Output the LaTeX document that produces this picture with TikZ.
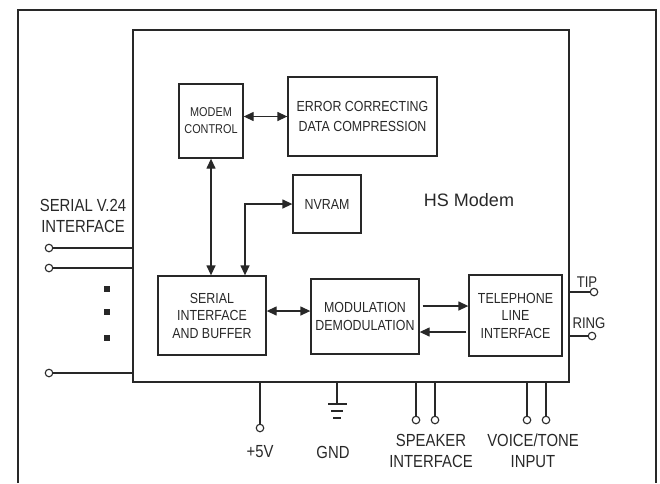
\documentclass[tikz,border=0pt]{standalone}
\usepackage{fontspec}
\setmainfont{Liberation Sans}
\newfontfamily\narrowsf{Liberation Sans}[FakeStretch=0.85]
\usetikzlibrary{arrows.meta}
\definecolor{lnk}{RGB}{40,40,40}

\begin{document}
\begin{tikzpicture}[x=1pt, y=-1pt,
  blk/.style={draw=lnk, line width=1.3pt, align=center, inner sep=0pt, text=lnk, font=\narrowsf\fontsize{14.6}{17.5}\selectfont},
  pin/.style={circle, draw=lnk, line width=1.1pt, fill=white, inner sep=0pt, minimum size=7.5pt},
  lbl/.style={text=lnk, align=center, font=\narrowsf\fontsize{17.5}{21}\selectfont},
  conn/.style={draw=lnk, line width=1.3pt},
  dbl/.style={conn, {Triangle[length=10pt,width=9pt]}-{Triangle[length=10pt,width=9pt]}},
  sgl/.style={conn, -{Triangle[length=10pt,width=9pt]}}]
  \useasboundingbox (0,0) rectangle (660,483);

  % Outer frame
  \draw[lnk, line width=2pt] (18,483) -- (18,10) -- (656,10) -- (656,483);

  % HS Modem
  \node[draw=lnk, line width=1.4pt, minimum width=436pt, minimum height=352pt, inner sep=0pt] (hs) at (351,206) {};
  \node[text=lnk, font=\fontsize{18}{20}\selectfont] (hsl) at (469,200) {HS Modem};

  % Blocks
  \node[blk, minimum width=64pt, minimum height=74pt, font=\narrowsf\fontsize{12.8}{17}\selectfont] (mc) at (211,121) {MODEM\\CONTROL};
  \node[blk, minimum width=149pt, minimum height=79pt, font=\narrowsf\fontsize{14.6}{20}\selectfont] (ecc) at (362.5,116.5) {ERROR CORRECTING\\DATA COMPRESSION};
  \node[blk, minimum width=68pt, minimum height=58pt] (nv) at (327,204) {NVRAM};
  \node[blk, minimum width=108pt, minimum height=79pt] (sib) at (212,315.5) {SERIAL\\INTERFACE\\AND BUFFER};
  \node[blk, minimum width=108pt, minimum height=75pt] (mod) at (365,316.5) {MODULATION\\DEMODULATION};
  \node[blk, minimum width=93pt, minimum height=81pt] (tli) at (515.5,315.5) {TELEPHONE\\LINE\\INTERFACE};

  % Internal arrows
  \draw[dbl] (ecc.west -| mc.east) -- (ecc.west);
  \draw[dbl] (mc.south) -- (mc.south |- sib.north);
  \draw[dbl] ([xshift=33pt]sib.north) |- (nv.west);
  \draw[dbl] ([yshift=4.5pt]sib.east) -- ([yshift=4.5pt]sib.east -| mod.west);
  \draw[sgl, shorten <=3pt] ([yshift=10.5pt]mod.east) -- ([yshift=10.5pt]mod.east -| tli.west);
  \draw[sgl, shorten <=2pt] ([yshift=-16.5pt]tli.west) -- ([yshift=-16.5pt]tli.west -| mod.east);

  % Serial pins
  \node[pin] (s1) at (49,248) {};
  \node[pin] (s2) at (49,268) {};
  \node[pin] (sn) at (49,373) {};
  \foreach \p in {s1,s2,sn}
    \draw[conn] (\p) -- (\p -| hs.west);
  \foreach \y in {289,312,338}
    \fill[lnk] (104,\y-3) rectangle ++(6,6);
  \node[lbl] (serlbl) at (83,216) {SERIAL V.24\\INTERFACE};

  % Line pins
  \node[pin] (tip) at (594,292) {};
  \node[pin] (ring) at (592,336) {};
  \draw[conn] (tip -| hs.east) -- (tip);
  \draw[conn] (ring -| hs.east) -- (ring);
  \node[lbl, font=\narrowsf\fontsize{15.5}{16}\selectfont] (tiplbl) at (587,282) {TIP};
  \node[lbl, font=\narrowsf\fontsize{15.5}{16}\selectfont] (ringlbl) at (589,323) {RING};

  % Power and ground
  \node[pin] (vcc) at (260,428) {};
  \draw[conn] (vcc |- hs.south) -- (vcc);
  \node[lbl] (vcclbl) at (260,452) {+5V};
  \coordinate (gnd) at (337,404);
  \draw[conn] (gnd |- hs.south) -- (gnd);
  \draw[lnk, line width=1.6pt] (328,404) -- (347,404) (331,411) -- (343,411) (333,418) -- (341,418);
  \node[lbl] (gndlbl) at (333,452) {GND};

  % Speaker and voice inputs
  \node[pin] (spa) at (416,420) {};
  \node[pin] (spb) at (435,420) {};
  \node[pin] (vta) at (527,420) {};
  \node[pin] (vtb) at (546,420) {};
  \foreach \p in {spa,spb,vta,vtb}
    \draw[conn] (\p |- hs.south) -- (\p);
  \node[lbl] (splbl) at (431,450.5) {SPEAKER\\INTERFACE};
  \node[lbl] (vtlbl) at (533,450.5) {VOICE/TONE\\INPUT};
\end{tikzpicture}
\end{document}
